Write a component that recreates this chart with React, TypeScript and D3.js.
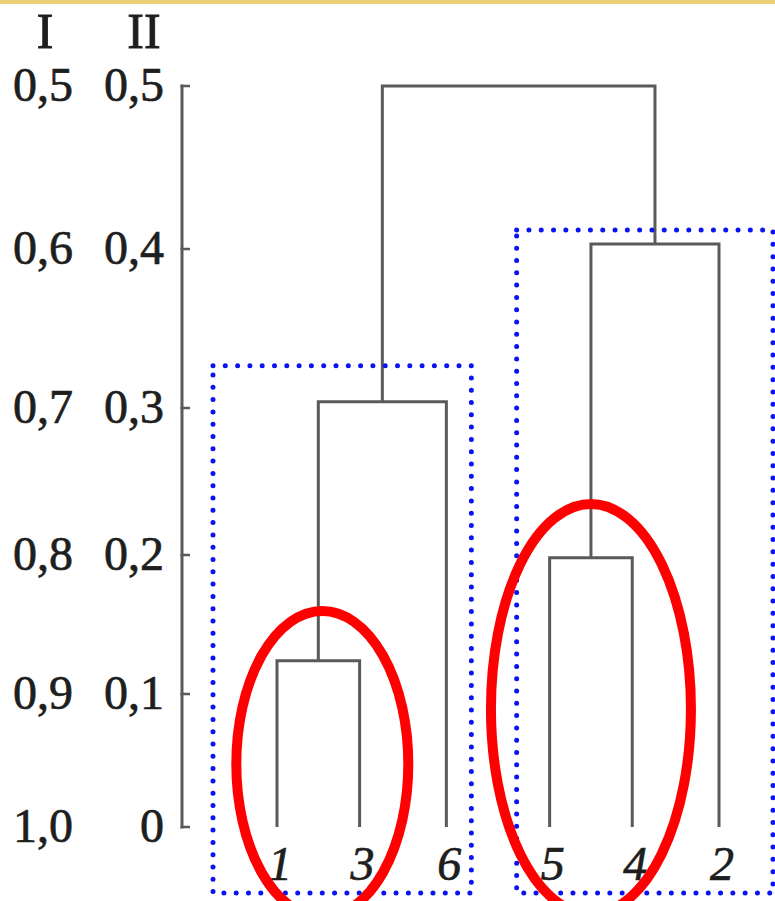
import React from "react";
import * as d3 from "d3";

// ---- data ----
const leafLabels = ["1", "3", "6", "5", "4", "2"];
const mergeIds = ["A", "B", "C", "D", "E"];
const mergeLeft = ["1", "A", "5", "C", "B"];
const mergeRight = ["3", "6", "4", "2", "D"];
const mergeHeights = [0.124, 0.304, 0.198, 0.403, 0.5];
const ticksII = [0, 0.1, 0.2, 0.3, 0.4, 0.5];
const labelsII = ["0", "0,1", "0,2", "0,3", "0,4", "0,5"];
const labelsI = ["1,0", "0,9", "0,8", "0,7", "0,6", "0,5"];
const groupBoxes = [["1", "3", "6"], ["5", "4", "2"]];
const highlightPairs = [["1", "3"], ["5", "4"]];

const W = 775;
const H = 901;

export default function App() {
  // vertical scale (distorted in the original figure, so piecewise)
  const y = d3
    .scaleLinear()
    .domain(ticksII)
    .range([827, 694, 555, 408, 249, 86]);

  // build hierarchy
  const children: Record<string, string[]> = {};
  const heights: Record<string, number> = {};
  mergeIds.forEach((id, i) => {
    children[id] = [mergeLeft[i], mergeRight[i]];
    heights[id] = mergeHeights[i];
  });
  leafLabels.forEach((l) => (heights[l] = 0));
  const build = (id: string): any => ({
    id,
    children: children[id] ? children[id].map(build) : undefined,
  });
  const root = d3.hierarchy(build("E"));
  const topGroup = (n: any) => n.ancestors().find((a: any) => a.depth === 1);
  d3
    .cluster<any>()
    .nodeSize([1, 1])
    .separation((a, b) =>
      a.parent === b.parent ? 1 : topGroup(a) === topGroup(b) ? 1.05 : 1.25
    )(root);
  const nodes = root.descendants();
  const leafNodes = root.leaves();
  const xExt = d3.extent(leafNodes, (n: any) => n.x) as [number, number];
  const x = d3.scaleLinear().domain(xExt).range([277, 719]);
  const xOf: Record<string, number> = {};
  nodes.forEach((n: any) => (xOf[n.data.id] = x(n.x)));

  const lineColor = "#5a5a5a";
  const links: JSX.Element[] = [];
  nodes.forEach((n: any, i: number) => {
    if (!n.children) return;
    const yh = y(heights[n.data.id]);
    const c0 = n.children[0];
    const c1 = n.children[1];
    const path = d3.path();
    path.moveTo(xOf[c0.data.id], y(heights[c0.data.id]));
    path.lineTo(xOf[c0.data.id], yh);
    path.lineTo(xOf[c1.data.id], yh);
    path.lineTo(xOf[c1.data.id], y(heights[c1.data.id]));
    links.push(
      <path
        key={"l" + i}
        d={path.toString()}
        fill="none"
        stroke={lineColor}
        strokeWidth={3}
      />
    );
  });

  const serif = "'Liberation Serif', 'DejaVu Serif', serif";
  const ink = "#1e1e1e";
  const axisX = 182;

  return (
    <svg
      width={W}
      height={H}
      style={{ position: "absolute", left: 0, top: 0, background: "#fff" }}
    >
      <rect x={0} y={0} width={W} height={H} fill="#fff" />
      <rect x={0} y={0} width={W} height={4} fill="#e9cf76" />

      {/* headers */}
      <text x={45} y={48} textAnchor="middle" fontFamily={serif} fontSize={50} fill={ink} stroke={ink} strokeWidth={0.9}>
        I
      </text>
      <text x={144} y={48} textAnchor="middle" fontFamily={serif} fontSize={50} fill={ink} stroke={ink} strokeWidth={0.9}>
        II
      </text>

      {/* axis */}
      <line x1={axisX} x2={axisX} y1={y(0.5) - 1.5} y2={y(0) + 1.5} stroke={lineColor} strokeWidth={3} />
      {ticksII.map((t, i) => (
        <g key={"t" + i}>
          <line
            x1={axisX - 1.5}
            x2={axisX + 8}
            y1={y(t)}
            y2={y(t)}
            stroke={lineColor}
            strokeWidth={2.5}
          />
          <text
            x={73}
            y={y(t) + 15}
            textAnchor="end"
            fontFamily={serif}
            fontSize={48}
            fill={ink}
            stroke={ink}
            strokeWidth={0.7}
          >
            {labelsI[i]}
          </text>
          <text
            x={164}
            y={y(t) + 15}
            textAnchor="end"
            fontFamily={serif}
            fontSize={48}
            fill={ink}
            stroke={ink}
            strokeWidth={0.7}
          >
            {labelsII[i]}
          </text>
        </g>
      ))}

      {/* dendrogram */}
      {links}

      {/* leaf labels */}
      {leafLabels.map((l) => (
        <text
          key={"leaf" + l}
          x={xOf[l] + 3}
          y={880}
          textAnchor="middle"
          fontFamily={serif}
          fontStyle="italic"
          fontSize={48}
          fill={ink}
          stroke={ink}
          strokeWidth={0.7}
        >
          {l}
        </text>
      ))}

      {/* blue dotted group boxes */}
      {groupBoxes.map((g, i) => {
        const x0 = xOf[g[0]] - (i === 0 ? 64 : 33);
        const x1 = xOf[g[g.length - 1]] + (i === 0 ? 25 : 54);
        const parentId = i === 0 ? "B" : "D";
        const yTop = y(heights[parentId]) - (i === 0 ? 36 : 14);
        return (
          <rect
            key={"box" + i}
            x={x0}
            y={yTop}
            width={x1 - x0}
            height={893 - yTop}
            fill="none"
            stroke="#0a14f0"
            strokeWidth={5}
            strokeLinecap="round"
            strokeDasharray="0 12.3"
          />
        );
      })}

      {/* red ellipses */}
      {highlightPairs.map((p, i) => {
        const cx = (xOf[p[0]] + xOf[p[1]]) / 2 + (i === 0 ? 4 : 0);
        const rx = i === 0 ? 86 : 100;
        const ry = i === 0 ? 153 : 205;
        const cy = i === 0 ? 764 : 709;
        return (
          <ellipse
            key={"el" + i}
            cx={cx}
            cy={cy}
            rx={rx}
            ry={ry}
            fill="none"
            stroke="#ff0000"
            strokeWidth={10}
          />
        );
      })}
    </svg>
  );
}
